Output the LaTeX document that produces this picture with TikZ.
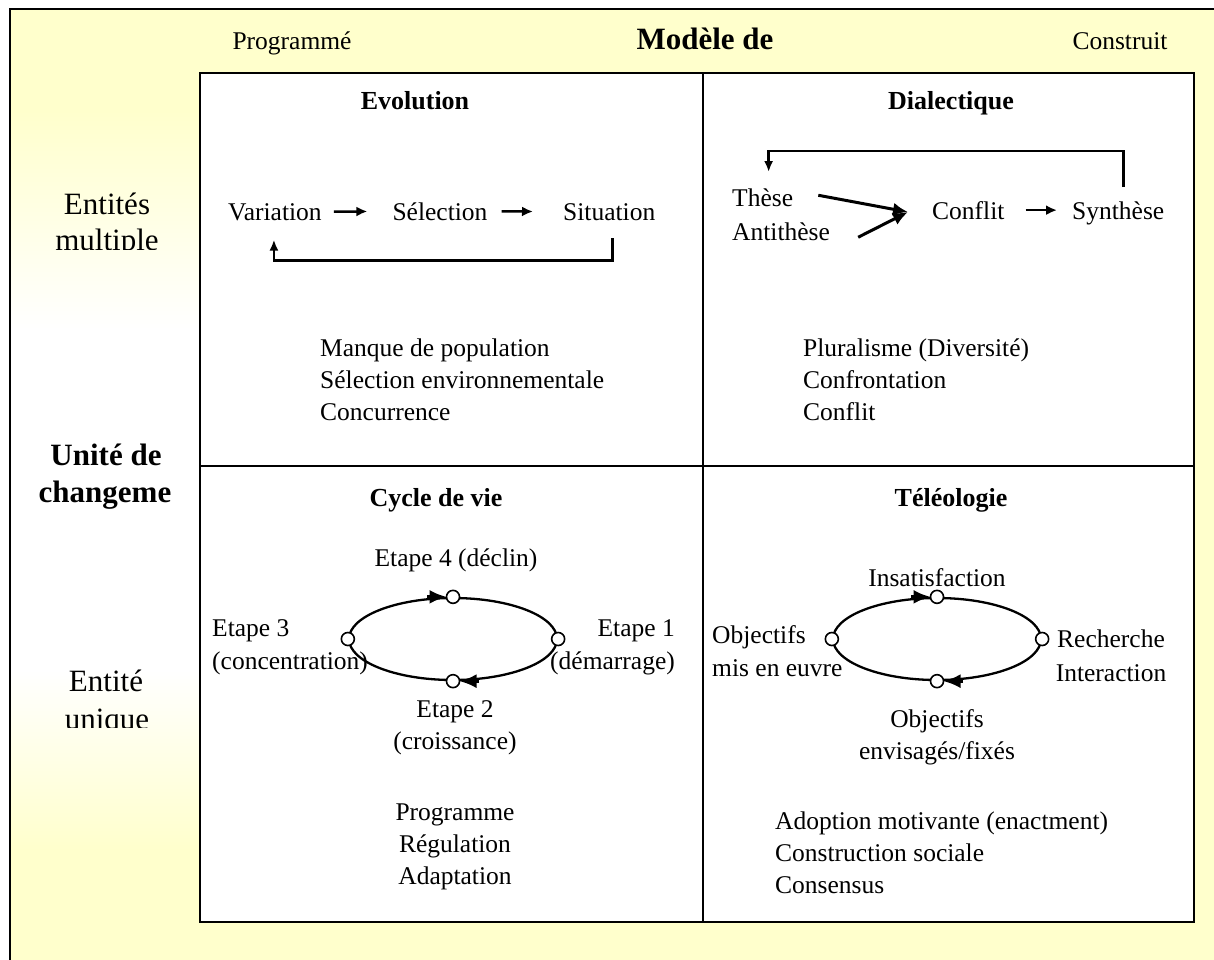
\documentclass[tikz,border=0pt]{standalone}
\usepackage{fontspec}
\setmainfont{Liberation Serif}
\usetikzlibrary{arrows.meta,shapes.geometric,calc}
\definecolor{bgyellow}{RGB}{255,255,204}
\begin{document}
\begin{tikzpicture}[x=1pt,y=-1pt,
 txt/.style={inner sep=0pt, anchor=base, font=\fontsize{25.5}{32}\selectfont},
 ttl/.style={inner sep=0pt, anchor=base, font=\fontsize{26}{31}\selectfont\bfseries},
 side/.style={inner sep=0pt, anchor=base, font=\fontsize{31}{37}\selectfont},
 sidebf/.style={inner sep=0pt, anchor=base, font=\fontsize{31}{37}\selectfont\bfseries},
 flow/.style={line width=2.5pt, -{Latex[length=11pt,width=10pt]}},
 conv/.style={line width=3pt, -{Latex[length=15pt,width=13pt]}},
 fb/.style={line width=2.6pt, -{Latex[length=11pt,width=9pt]}},
 cyc/.style={line width=2.8pt, -{Latex[length=17pt,width=14pt]}},
 dot/.style={circle, draw, fill=white, line width=1.6pt, minimum size=13pt, inner sep=0pt},
 loopell/.style={ellipse, draw, line width=2.3pt, minimum width=208pt, minimum height=82pt, inner sep=0pt},
 gridline/.style={line width=2.2pt}]

\clip (0,0) rectangle (1214,959);
\fill[white] (0,0) rectangle (1214,959);
\fill[bgyellow] (10,9) rectangle (1230,980);
\shade[top color=bgyellow,bottom color=white] (11,110) rectangle (199,330);
\fill[white] (11,330) rectangle (199,670);
\shade[top color=white,bottom color=bgyellow] (11,670) rectangle (199,850);
\draw[line width=2.2pt] (10,980) -- (10,9) -- (1230,9);

% grid
\fill[white] (200,73) rectangle (1194,922);
\draw[gridline] (200,73) rectangle (1194,922);
\draw[gridline] (703,73) -- (703,922);
\draw[gridline] (200,466) -- (1194,466);

% header
\node[txt] (prog) at (292,49) {Programmé};
\node[sidebf] (mod) at (705,49) {Modèle de};
\node[txt] (cons) at (1120,49) {Construit};

% side labels
\begin{scope}
\clip (11,150) rectangle (199,249);
\node[side] (ent) at (107,214) {Entités};
\node[side] (mul) at (107,250) {multiple};
\end{scope}
\node[sidebf] (unit) at (106,465) {Unité de};
\node[sidebf] (chg) at (105,502) {changeme};
\begin{scope}
\clip (11,640) rectangle (199,727);
\node[side] (ent2) at (106,691) {Entité};
\node[side] (uni) at (107,729) {unique};
\end{scope}

% Evolution
\node[ttl] (evo) at (415,109) {Evolution};
\node[txt, anchor=base west] (var) at (228,220) {Variation};
\node[txt] (sel) at (440,220) {Sélection};
\node[txt, anchor=base west] (sit) at (563,220) {Situation};
\draw[flow, shorten <=12pt, shorten >=25pt] (var.east) -- (sel.west);
\draw[flow, shorten <=14pt, shorten >=30pt] (sel.east) -- (sit.west);
\draw[fb] ([xshift=3pt,yshift=-18pt]sit.south) -- ++(0,22) -| ([xshift=-1pt,yshift=-19pt]var.south);
\node[txt, anchor=base west] (ev1) at (320,356) {Manque de population};
\node[txt, anchor=base west] (ev2) at (320,388) {Sélection environnementale};
\node[txt, anchor=base west] (ev3) at (320,420) {Concurrence};

% Dialectique
\node[ttl] (dia) at (951,109) {Dialectique};
\node[txt, anchor=base west] (these) at (732,206) {Thèse};
\node[txt, anchor=base west] (anti) at (732,240) {Antithèse};
\node[txt, anchor=base west] (conf) at (932,219) {Conflit};
\node[txt, anchor=base west] (syn) at (1072,219) {Synthèse};
\coordinate (jn) at (908,212);
\draw[conv] ([xshift=25pt,yshift=2pt]these.east) -- (jn);
\draw[conv] ([xshift=28pt,yshift=-6pt]anti.east) -- (jn);
\draw[flow] ([xshift=21pt]conf.east) -- ($(conf.east -| syn.west)+(-15,0)$);
\draw[fb] ([xshift=5pt,yshift=14pt]syn.north) -- ++(0,-36) -| ([xshift=6pt,yshift=16pt]these.north);
\node[txt, anchor=base west] (di1) at (803,356) {Pluralisme (Diversité)};
\node[txt, anchor=base west] (di2) at (803,388) {Confrontation};
\node[txt, anchor=base west] (di3) at (803,420) {Conflit};

% Cycle de vie
\node[ttl] (cyv) at (436,506) {Cycle de vie};
\node[loopell] (ell1) at (453,639) {};
\draw[cyc] ([xshift=-26pt]ell1.north) -- ([xshift=-6.5pt]ell1.north);
\draw[cyc] ([xshift=26pt]ell1.south) -- ([xshift=6.5pt]ell1.south);
\node[dot] (s4) at (ell1.north) {};
\node[dot] (s1) at (ell1.east) {};
\node[dot] (s2) at (ell1.south) {};
\node[dot] (s3) at (ell1.west) {};
\node[txt] (e4) at (456,566) {Etape 4 (déclin)};
\node[txt, anchor=base west] (e3a) at (212,636) {Etape 3};
\node[txt, anchor=base west] (e3b) at (212,669) {(concentration)};
\node[txt, anchor=base east] (e1a) at (675,636) {Etape 1};
\node[txt, anchor=base east] (e1b) at (675,669) {(démarrage)};
\node[txt] (e2a) at (455,717) {Etape 2};
\node[txt] (e2b) at (455,749) {(croissance)};
\node[txt] (cv1) at (455,820) {Programme};
\node[txt] (cv2) at (455,852) {Régulation};
\node[txt] (cv3) at (455,884) {Adaptation};

% Teleologie
\node[ttl] (tel) at (951,506) {Téléologie};
\node[loopell] (ell2) at (937,639) {};
\draw[cyc] ([xshift=-26pt]ell2.north) -- ([xshift=-6.5pt]ell2.north);
\draw[cyc] ([xshift=26pt]ell2.south) -- ([xshift=6.5pt]ell2.south);
\node[dot] (t1) at (ell2.north) {};
\node[dot] (t2) at (ell2.east) {};
\node[dot] (t3) at (ell2.south) {};
\node[dot] (t4) at (ell2.west) {};
\node[txt] (ins) at (937,586) {Insatisfaction};
\node[txt, anchor=base west] (oa) at (712,643) {Objectifs};
\node[txt, anchor=base west] (ob) at (712,676) {mis en euvre};
\node[txt] (ra) at (1111,647) {Recherche};
\node[txt] (rb) at (1111,681) {Interaction};
\node[txt] (oe1) at (937,727) {Objectifs};
\node[txt] (oe2) at (937,759) {envisagés/fixés};
\node[txt, anchor=base west] (te1) at (775,829) {Adoption motivante (enactment)};
\node[txt, anchor=base west] (te2) at (775,861) {Construction sociale};
\node[txt, anchor=base west] (te3) at (775,893) {Consensus};
\end{tikzpicture}
\end{document}
